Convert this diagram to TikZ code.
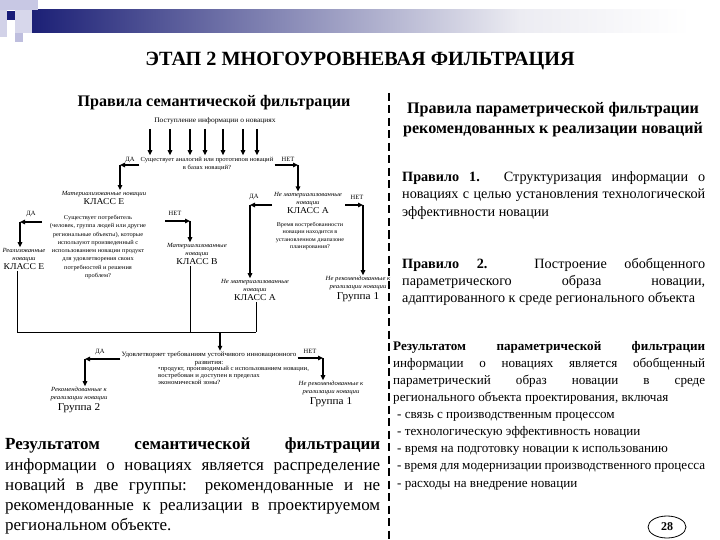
\documentclass[tikz,border=0pt]{standalone}
\usepackage{fontspec}
\setmainfont{Liberation Serif}
\newfontfamily\smallfont{Liberation Serif}[FakeStretch=1.07]
\usetikzlibrary{arrows.meta,shapes.geometric}
\definecolor{navy}{RGB}{28,32,118}
\definecolor{navydark}{RGB}{24,28,120}
\definecolor{palegray}{RGB}{236,236,242}
\definecolor{lav1}{RGB}{200,200,228}
\definecolor{lav2}{RGB}{210,210,232}
\definecolor{lav3}{RGB}{215,215,235}
\definecolor{lav4}{RGB}{190,190,222}
\newcommand\klasstxt[1]{{\fontsize{9}{11}\selectfont\upshape #1}}
\newcommand\grptxt[1]{{\fontsize{10.5}{12}\selectfont\upshape #1}}
\begin{document}
\begin{tikzpicture}[x=1pt,y=-1pt,
  arr/.style={-{Triangle[length=5pt,width=4.5pt]}, line width=1.3pt},
  link/.style={line width=0.8pt},
  tiny/.style={font=\smallfont\fontsize{6.2}{7.8}\selectfont, inner sep=1pt, align=center},
  yn/.style={font=\fontsize{6.5}{7}\selectfont, inner sep=0pt},
  res/.style={font=\smallfont\fontsize{6.3}{7.8}\selectfont\itshape, inner sep=1pt, align=center},
  para/.style={inner sep=0pt, align=justify, anchor=north west}]
\useasboundingbox (0,0) rectangle (720,540);
\fill[white] (0,0) rectangle (720,540);
% header decoration
\fill[left color=navy, right color=palegray] (32,10) rectangle (520,33);
\fill[left color=palegray, right color=white] (520,10) rectangle (690,33);
\fill[lav1] (0,0) rectangle (38,10);
\fill[lav2] (0,10) rectangle (7,37);
\fill[lav3] (15,10) rectangle (32,33);
\fill[navydark] (7,11) rectangle (15,20);
\fill[lav4] (15,33) rectangle (23,42);
% titles
\node[font=\bfseries\fontsize{20.2}{23}\selectfont, inner sep=0] (title) at (360,61) {ЭТАП 2 МНОГОУРОВНЕВАЯ ФИЛЬТРАЦИЯ};
\node[font=\bfseries\fontsize{16.1}{18}\selectfont, inner sep=0] (hl) at (214,103) {Правила семантической фильтрации};
\node[font=\bfseries\fontsize{16.1}{20}\selectfont, inner sep=0, align=center] (hr) at (553,120) {Правила параметрической фильтрации\\рекомендованных к реализации новаций};
% separator
\draw[line width=2.2pt, dash pattern=on 8pt off 4.5pt] (389,93) -- (389,540);
% flowchart top
\node[tiny, font=\smallfont\fontsize{7}{8}\selectfont, inner ysep=4.5pt] (in) at (215,121) {Поступление информации о новациях};
\node[tiny, inner ysep=2pt] (q1) at (207,164) {Существует аналогий или прототипов новаций\\в базах новаций?};
\foreach \x in {150,170,190,205,223,243,257} {
  \coordinate (t\x) at (\x,0);
  \draw[arr] (t\x |- in.south) -- (t\x |- q1.north);
}
\node[yn] (da1) at (130,160) {ДА};
\node[yn] (net1) at (288,159) {НЕТ};
\coordinate (c1) at (120,165);
\coordinate (c2) at (298,165);
\node[res] (m1) at (104,198) {Материализованные новации\\[1.5pt]\klasstxt{КЛАСС Е}};
\node[res] (m3) at (308,203) {Не материализованные\\новации\\[1pt]\klasstxt{КЛАСС А}};
\draw[arr] (q1.west |- c1) -- (c1);
\draw[arr] (c1) -- (c1 |- m1.north);
\draw[arr] (q1.east |- c2) -- (c2);
\draw[arr] (c2) -- (c2 |- m3.north);
% left branch
\node[tiny, font=\smallfont\fontsize{6}{8.3}\selectfont] (q2) at (98,247) {Существует потребитель\\(человек, группа людей или другие\\региональные объекты), которые\\используют произведенный с\\использованием новации продукт\\для удовлетворения своих\\потребностей и решения\\проблем?};
\node[yn] (da2) at (31,214) {ДА};
\node[yn] (net2) at (175,213) {НЕТ};
\coordinate (c3) at (20,222);
\coordinate (c4) at (190,221);
\coordinate (s3) at (42,222);
\coordinate (s4) at (165,221);
\node[res] (r1) at (24,259) {Реализованные\\новации\\[1.5pt]\klasstxt{КЛАСС Е}};
\node[res] (m2) at (197,254) {Материализованные\\новации\\[1.5pt]\klasstxt{КЛАСС В}};
\draw[arr] (s3) -- (c3);
\draw[arr] (c3) -- (c3 |- r1.north);
\draw[arr] (s4) -- (c4);
\draw[arr] (c4) -- (c4 |- m2.north);
% right branch
\node[tiny, font=\smallfont\fontsize{5.8}{7.4}\selectfont] (q3) at (310,236) {Время востребованности\\новации находится в\\установленном диапазоне\\планирования?};
\node[yn] (da3) at (254,197) {ДА};
\node[yn] (net3) at (357,197) {НЕТ};
\coordinate (c5) at (250,205);
\coordinate (c6) at (363,205);
\coordinate (s5) at (272,205);
\coordinate (s6) at (345,205);
\node[res] (o1) at (255,290) {Не материализованные\\новации\\[1.5pt]\klasstxt{КЛАСС А}};
\node[res] (o2) at (358,289) {Не рекомендованные к\\реализации новации\\[1.5pt]\grptxt{Группа 1}};
\draw[arr] (s5) -- (c5);
\draw[arr] (c5) -- (c5 |- o1.north);
\draw[arr] (s6) -- (c6);
\draw[arr] (c6) -- (c6 |- o2.north);
% collecting lines
\coordinate (j1) at (17,332);
\coordinate (j2) at (190,332);
\coordinate (j3) at (256,332);
\coordinate (jm) at (220,332);
\draw[link] (j1 |- r1.south) -- (j1) -- (j3);
\draw[link] (j2 |- m2.south) -- (j2);
\draw[link] (j3 |- o1.south) -- (j3);
% bottom question
\node[tiny, font=\smallfont\fontsize{6.6}{7.8}\selectfont] (q4) at (209,359) {Удовлетворяет требованиям устойчивого инновационного\\развития:};
\node[tiny, font=\smallfont\fontsize{6.3}{7}\selectfont, align=left, anchor=north west, inner sep=0] (q4b) at (158,366) {•продукт, производимый с использованием новации,\\востребован и доступен в пределах\\экономической зоны?};
\draw[arr] (jm) -- (jm |- q4.north);
\node[yn] (da4) at (100,352) {ДА};
\node[yn] (net4) at (310,351) {НЕТ};
\coordinate (c7) at (85,359);
\coordinate (c8) at (323,358);
\node[res] (o3) at (79,400) {Рекомендованные к\\реализации новации\\[1.5pt]\grptxt{Группа 2}};
\node[res] (o4) at (331,394) {Не рекомендованные к\\реализации новации\\[1.5pt]\grptxt{Группа 1}};
\draw[arr] (q4.west |- c7) -- (c7);
\draw[arr] (c7) -- (c7 |- o3.north);
\draw[arr] (q4.east |- c8) -- (c8);
\draw[arr] (c8) -- (c8 |- o4.north);
% left conclusion
\node[para, text width=375pt, font=\fontsize{17}{20.2}\selectfont] (concl) at (5,438) {\noindent\textbf{Результатом семантической фильтрации}\linebreak информации о новациях является распределение\linebreak новаций в две группы: рекомендованные и не\linebreak рекомендованные к реализации в проектируемом\linebreak региональном объекте.};
% right column
\node[para, text width=303pt, font=\fontsize{14.2}{17.5}\selectfont] (rule1) at (402,171) {\noindent\textbf{Правило 1.} Структуризация информации о\linebreak новациях с целью установления технологической\linebreak эффективности новации};
\node[para, text width=303pt, font=\fontsize{14.2}{17}\selectfont] (rule2) at (402,258) {\noindent\textbf{Правило 2.} Построение обобщенного\linebreak параметрического образа новации,\linebreak адаптированного к среде регионального объекта};
\node[para, text width=312pt, font=\fontsize{13.1}{17.1}\selectfont] (res2) at (393,341) {\noindent\textbf{Результатом параметрической фильтрации}\linebreak информации о новациях является обобщенный\linebreak параметрический образ новации в среде\linebreak регионального объекта проектирования, включая\\
\hspace*{4pt}- связь с производственным процессом\\
\hspace*{4pt}- технологическую эффективность новации\\
\hspace*{4pt}- время на подготовку новации к использованию\\
\hspace*{4pt}- время для модернизации производственного процесса\\
\hspace*{4pt}- расходы на внедрение новации};
\node[draw, ellipse, line width=0.8pt, minimum width=38pt, minimum height=22pt, inner sep=0, font=\bfseries\fontsize{12}{14}\selectfont] (pg) at (667,527) {28};
\end{tikzpicture}
\end{document}
